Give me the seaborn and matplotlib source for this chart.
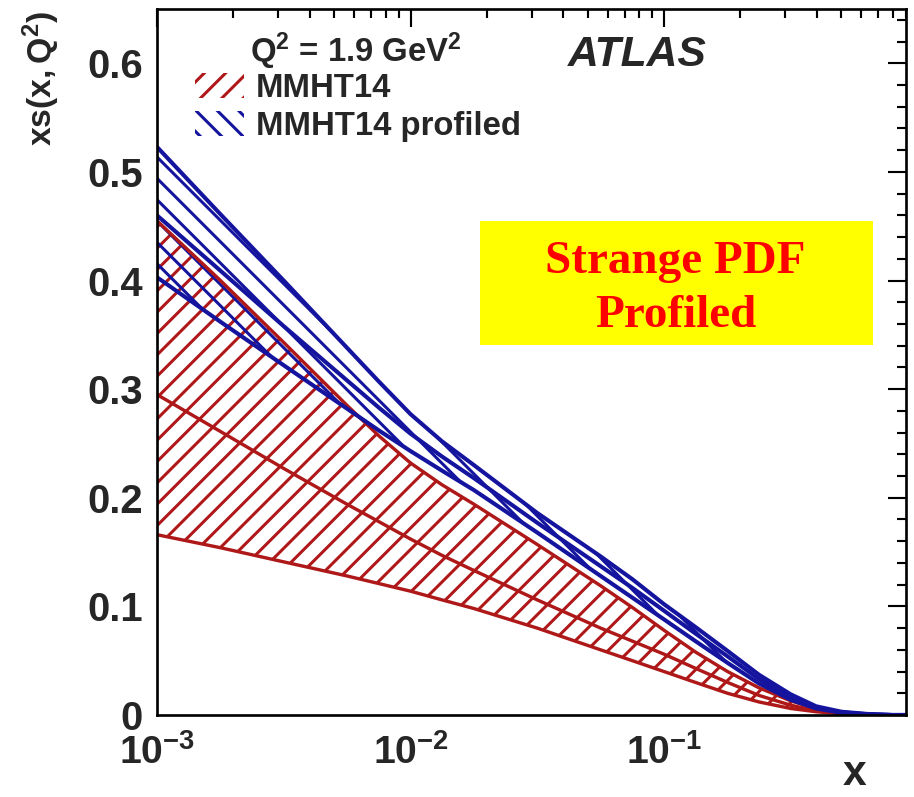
import numpy as np
import pandas as pd
import matplotlib
matplotlib.use("Agg")
import matplotlib.pyplot as plt
import seaborn as sns
from matplotlib.patches import Patch, Rectangle
from matplotlib.ticker import FixedLocator, MultipleLocator, LogLocator, NullFormatter

# ---------------- data ----------------
x_grid = [0.001, 0.00178, 0.00316, 0.00562, 0.0075, 0.01, 0.0133, 0.0178, 0.0316,
          0.0562, 0.075, 0.1, 0.133, 0.178, 0.237, 0.316, 0.398, 0.501, 0.631,
          0.794, 0.9]

mmht_hi = [0.455, 0.400, 0.343, 0.285, 0.257, 0.232, 0.212, 0.194, 0.157,
           0.119, 0.099, 0.078, 0.058, 0.040, 0.025, 0.013, 0.006, 0.002, 0.0005,
           0.0, 0.0]
mmht_lo = [0.166, 0.154, 0.141, 0.128, 0.121, 0.114, 0.106, 0.098, 0.080,
           0.060, 0.050, 0.040, 0.030, 0.020, 0.012, 0.006, 0.003, 0.001, 0.0,
           0.0, 0.0]
mmht_cv = [0.295, 0.261, 0.227, 0.194, 0.178, 0.162, 0.147, 0.133, 0.106,
           0.080, 0.068, 0.056, 0.043, 0.030, 0.018, 0.009, 0.004, 0.0015, 0.0003,
           0.0, 0.0]

prof_hi = [0.523, 0.461, 0.400, 0.338, 0.307, 0.277, 0.252, 0.230, 0.186,
           0.146, 0.125, 0.102, 0.081, 0.059, 0.037, 0.019, 0.008, 0.003, 0.001,
           0.0, 0.0]
prof_lo = [0.403, 0.362, 0.322, 0.282, 0.262, 0.243, 0.225, 0.207, 0.168,
           0.128, 0.108, 0.088, 0.068, 0.048, 0.029, 0.014, 0.006, 0.002, 0.0005,
           0.0, 0.0]
prof_cv = [0.460, 0.409, 0.358, 0.308, 0.283, 0.259, 0.238, 0.218, 0.177,
           0.137, 0.117, 0.096, 0.075, 0.054, 0.033, 0.016, 0.007, 0.0025, 0.0007,
           0.0, 0.0]

y_ticks = [0.0, 0.1, 0.2, 0.3, 0.4, 0.5, 0.6]
y_tick_labels = ["0", "0.1", "0.2", "0.3", "0.4", "0.5", "0.6"]
x_ticks = [1e-3, 1e-2, 1e-1]
x_tick_labels = [r"$\mathbf{10^{-3}}$", r"$\mathbf{10^{-2}}$", r"$\mathbf{10^{-1}}$"]

legend_labels = ["MMHT14", "MMHT14 profiled"]

RED = "#AE1818"
BLUE = "#14149E"

# ---------------- style ----------------
sns.set_theme(style="white")
plt.rcParams["font.family"] = ["Liberation Sans", "DejaVu Sans"]
plt.rcParams["font.weight"] = "bold"
plt.rcParams["mathtext.fontset"] = "custom"
plt.rcParams["mathtext.rm"] = "Liberation Sans:bold"
plt.rcParams["mathtext.bf"] = "Liberation Sans:bold"
plt.rcParams["mathtext.it"] = "Liberation Sans:bold:italic"
plt.rcParams["hatch.linewidth"] = 1.7

DPI = 128
fig = plt.figure(figsize=(914 / DPI, 797 / DPI), dpi=DPI)
fig.patch.set_facecolor("white")
ax = fig.add_axes([157 / 914, 1 - 715 / 797, (906 - 157) / 914, (715 - 9) / 797])
ax.set_facecolor("white")

n = len(x_grid)

# ---------------- MMHT14 band ----------------
with plt.rc_context({"hatch.color": RED}):
    ax.fill_between(x_grid, mmht_lo, mmht_hi, facecolor="none", edgecolor=RED,
                    hatch="//", linewidth=0)
df_red = pd.DataFrame({
    "x": x_grid * 3,
    "xs": mmht_lo + mmht_hi + mmht_cv,
    "curve": ["lo"] * n + ["hi"] * n + ["cv"] * n,
})
sns.lineplot(data=df_red, x="x", y="xs", hue="curve", units="curve", estimator=None,
             palette={"lo": RED, "hi": RED, "cv": RED}, linewidth=1.9, legend=False,
             sort=False, ax=ax)

# ---------------- MMHT14 profiled band ----------------
with plt.rc_context({"hatch.color": BLUE}):
    ax.fill_between(x_grid, prof_lo, prof_hi, facecolor="none", edgecolor=BLUE,
                    hatch="\\\\", linewidth=0)
df_blue = pd.DataFrame({
    "x": x_grid * 3,
    "xs": prof_lo + prof_hi + prof_cv,
    "curve": ["lo"] * n + ["hi"] * n + ["cv"] * n,
})
sns.lineplot(data=df_blue, x="x", y="xs", hue="curve", units="curve", estimator=None,
             palette={"lo": BLUE, "hi": BLUE, "cv": BLUE}, linewidth=2.3, legend=False,
             sort=False, ax=ax)

# ---------------- axes ----------------
ax.set_xscale("log")
ax.set_xlim(1e-3, 0.9)
ax.set_ylim(0, 0.65)
ax.set_xticks(x_ticks)
ax.set_xticklabels(x_tick_labels, fontsize=22)
ax.xaxis.set_minor_locator(LogLocator(base=10, subs=np.arange(2, 10)))
ax.xaxis.set_minor_formatter(NullFormatter())
ax.yaxis.set_major_locator(FixedLocator(y_ticks))
ax.set_yticklabels(y_tick_labels, fontsize=22.5, fontweight="bold")
ax.yaxis.set_minor_locator(MultipleLocator(0.02))

for sp in ax.spines.values():
    sp.set_linewidth(1.5)
    sp.set_color("black")
ax.tick_params(which="both", direction="in", top=True, right=True, color="black",
               width=1.2)
ax.tick_params(which="major", length=10)
ax.tick_params(which="minor", length=5)
ax.tick_params(axis="y", which="major", pad=8)
ax.tick_params(axis="x", which="major", pad=11)

ax.set_xlabel("x", fontsize=24, fontweight="bold")
ax.xaxis.set_label_coords(0.932, -0.055)
ax.set_ylabel(r"$\mathbf{xs(x,Q^{2})}$", fontsize=19, loc="top")
ax.yaxis.set_label_coords(-0.127, 0.998)

# ---------------- legend & annotations ----------------
handles = [Patch(facecolor="none", edgecolor=RED, hatch="//", linewidth=0),
           Patch(facecolor="none", edgecolor=BLUE, hatch="\\\\", linewidth=0)]
leg = ax.legend(handles, legend_labels, loc="upper left",
                bbox_to_anchor=(38 / 749, 1 - 64 / 706), frameon=False,
                prop={"weight": "bold", "size": 18.5}, handlelength=1.5,
                handleheight=0.8, handletextpad=0.35, labelspacing=0.22,
                borderpad=0, borderaxespad=0)

fig.text(250 / 914, 1 - 62 / 797, r"$\mathbf{Q^{2}}$ = 1.9 GeV$\mathbf{^{2}}$",
         fontsize=18.5, fontweight="bold", ha="left", va="baseline")
fig.text(568 / 914, 1 - 66 / 797, "ATLAS", fontsize=24, fontweight="bold",
         fontstyle="italic", ha="left", va="baseline")

fig.patches.append(Rectangle((480 / 914, 1 - 345 / 797), 393 / 914, 124 / 797,
                             transform=fig.transFigure, facecolor="#FFFF00",
                             edgecolor="none", zorder=5))
fig.text(675 / 914, 1 - 273 / 797, "Strange PDF", fontsize=26.5, fontweight="bold",
         color="#FF0000", family=["Liberation Serif", "DejaVu Serif"],
         ha="center", va="baseline", zorder=6)
fig.text(676 / 914, 1 - 327 / 797, "Profiled", fontsize=26.5, fontweight="bold",
         color="#FF0000", family=["Liberation Serif", "DejaVu Serif"],
         ha="center", va="baseline", zorder=6)

fig.savefig("out.png", dpi=DPI, facecolor="white")
